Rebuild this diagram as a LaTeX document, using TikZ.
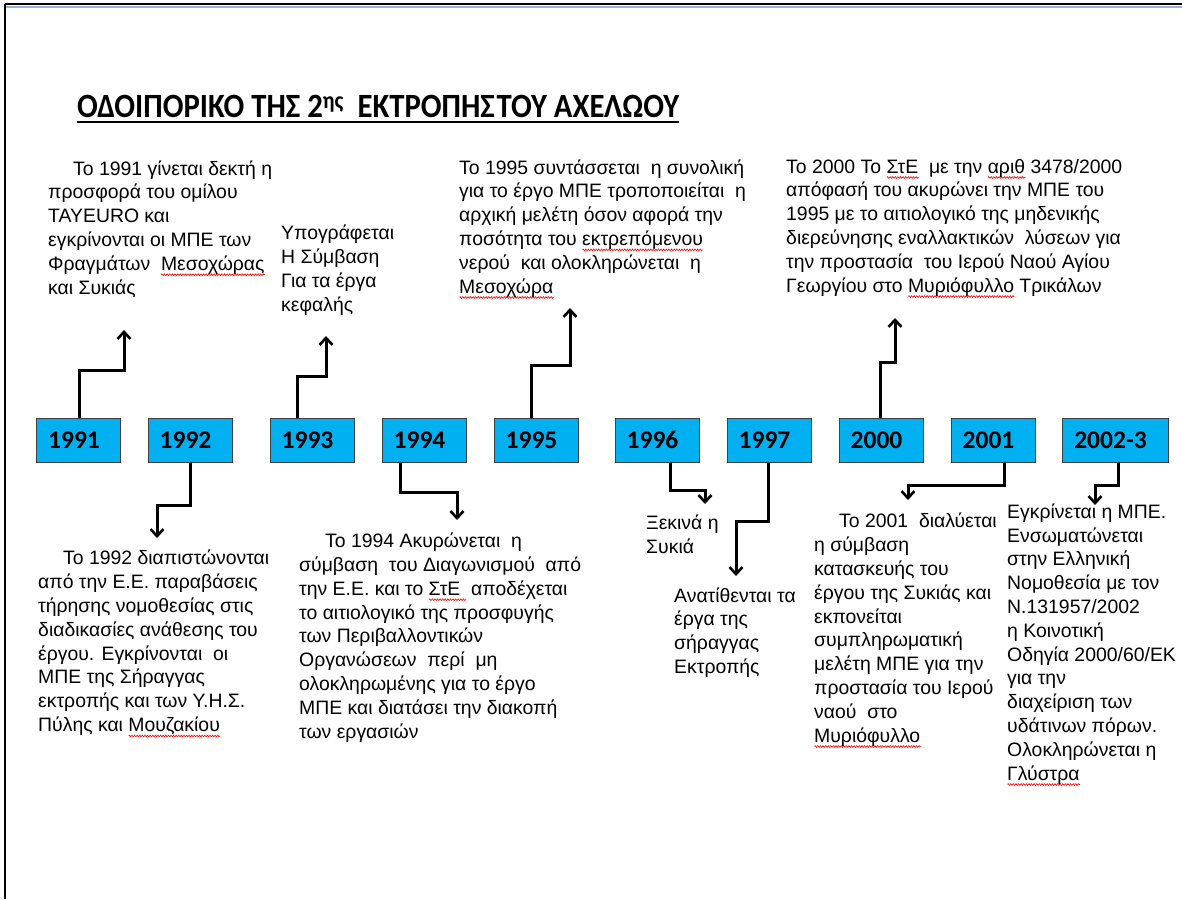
\documentclass[tikz,border=0pt]{standalone}
\usepackage{fontspec}
\setmainfont{Liberation Sans}
\newfontfamily\titlefont{Carlito}
\usepackage{graphicx}
\usetikzlibrary{arrows.meta,calc,decorations.pathmorphing}
\definecolor{boxcyan}{HTML}{00B0F0}
\definecolor{frameblue}{HTML}{9DB3CC}
\newsavebox\splbox
\newcommand\spl[1]{\sbox\splbox{#1}\leavevmode\rlap{\smash{\raisebox{-4.5pt}{\tikz[baseline=0pt]\draw[red, line width=0.6pt, decorate, decoration={zigzag, amplitude=0.9pt, segment length=2.6pt}] (0pt,0pt) -- (\wd\splbox,0pt);}}}\usebox\splbox}
\newcommand\yr[1]{#1\hspace*{9pt}}
\tikzset{
  yearbox/.style={draw=black!75, line width=0.8pt, fill=boxcyan, minimum width=84pt, minimum height=44pt, inner sep=0pt, text height=16pt, text depth=0pt, font=\titlefont\bfseries\fontsize{25.5}{25.5}\selectfont},
  conn/.style={line width=3pt, line join=miter, -{Straight Barb[length=7pt,width=13pt,line width=2.6pt]}},
  txt/.style={anchor=base west, align=left, inner sep=0pt, font=\fontsize{19.4}{23.8}\selectfont},
}
\begin{document}
\begin{tikzpicture}[x=1pt,y=-1pt]
\useasboundingbox (0,0) rectangle (1182,899);
% window frame
\draw[frameblue, line width=2pt] (6,7) -- (1182,7);
\draw[black, line width=2pt] (5,4.5) -- (1182,4.5);
\draw[black, line width=2pt] (5,4) -- (5,899);
% title
\node[anchor=base west, inner sep=0pt] (title) at (77,117.5) {\resizebox{602pt}{\height}{\titlefont\bfseries\fontsize{34}{34}\selectfont ΟΔΟΙΠΟΡΙΚΟ ΤΗΣ 2\textsuperscript{ης}\ \ ΕΚΤΡΟΠΗΣ\hspace{2pt}ΤΟΥ ΑΧΕΛΩΟΥ}};
\draw[line width=2.8pt] ($(title.base west)+(0,4.5)$) -- ($(title.base east)+(0,4.5)$);
% year boxes
\node[yearbox] (y91) at (78.5,440.5) {\yr{1991}};
\node[yearbox] (y92) at (190,440.5) {\yr{1992}};
\node[yearbox] (y93) at (312,440.5) {\yr{1993}};
\node[yearbox] (y94) at (424,440.5) {\yr{1994}};
\node[yearbox] (y95) at (536,440.5) {\yr{1995}};
\node[yearbox] (y96) at (657,440.5) {\yr{1996}};
\node[yearbox] (y97) at (769,440.5) {\yr{1997}};
\node[yearbox] (y00) at (881,440.5) {\yr{2000}};
\node[yearbox] (y01) at (993,440.5) {\yr{2001}};
\node[yearbox, minimum width=106pt] (y02) at (1115,440.5) {\yr{2002-3}};
% arrow ends
\coordinate (a91) at (124,330);
\coordinate (a93) at (326,336);
\coordinate (a95) at (570,308);
\coordinate (a00) at (895,318);
\coordinate (a92) at (157,538);
\coordinate (a94) at (457,520);
\coordinate (a96) at (705,504);
\coordinate (a97) at (736,576);
\coordinate (a01) at (908,500);
\coordinate (a02) at (1095,505);
% connectors up
\draw[conn] ($(y91.north)+(0.5,0)$) |- ($(a91)+(0,40)$) -- (a91);
\draw[conn] ($(y93.north)+(-15,0)$) |- ($(a93)+(0,40)$) -- (a93);
\draw[conn] ($(y95.north)+(-5,0)$) |- ($(a95)+(0,57)$) -- (a95);
\draw[conn] ($(y00.north)+(-1,0)$) |- ($(a00)+(0,44)$) -- (a00);
% connectors down
\draw[conn] ($(y92.south)+(0,0)$) |- ($(a92)+(0,-33)$) -- (a92);
\draw[conn] ($(y94.south)+(-24,0)$) |- ($(a94)+(0,-28)$) -- (a94);
\draw[conn] ($(y96.south)+(13,0)$) |- ($(a96)+(0,-14)$) -- (a96);
\draw[conn] ($(y97.south)+(-1,0)$) |- ($(a97)+(0,-55)$) -- (a97);
\draw[conn] ($(y01.south)+(11,0)$) |- ($(a01)+(0,-15)$) -- (a01);
\draw[conn] ($(y02.south)+(3,0)$) |- ($(a02)+(0,-20)$) -- (a02);
% texts above (anchor at baseline of the last line)
\node[txt] (t91) at (48,294) {\hspace*{25pt}Το 1991 γίνεται δεκτή η\\προσφορά του ομίλου\\TAYEURO και\\εγκρίνονται οι ΜΠΕ των\\Φραγμάτων\ \ \spl{Μεσοχώρας}\\και Συκιάς};
\node[txt] (t93) at (281,311) {Υπογράφεται\\Η Σύμβαση\\Για τα έργα\\κεφαλής};
\node[txt] (t95) at (459,293) {Το 1995 συντάσσεται\ \ η συνολική\\για το έργο ΜΠΕ τροποποιείται\ \ η\\αρχική\ μελέτη\ όσον\ αφορά\ την\\ποσότητα του \spl{εκτρεπόμενου}\\νερού\ \ και ολοκληρώνεται\ \ η\\\spl{Μεσοχώρα}};
\node[txt] (t00) at (786,292) {Το 2000 Το \spl{ΣτΕ}\ \ με την \spl{αριθ} 3478/2000\\απόφασή\ του ακυρώνει\ την ΜΠΕ του\\1995 με το αιτιολογικό της μηδενικής\\διερεύνησης εναλλακτικών\ \ λύσεων για\\την προστασία\ \ του Ιερού\ Ναού Αγίου\\Γεωργίου στο \spl{Μυριόφυλλο} Τρικάλων};
% texts below
\node[txt] (t92) at (38,731.5) {\hspace*{25pt}Το 1992 διαπιστώνονται\\από την Ε.Ε. παραβάσεις\\τήρησης νομοθεσίας στις\\διαδικασίες ανάθεσης του\\έργου. Εγκρίνονται\ \ οι\\ΜΠΕ της Σήραγγας\\εκτροπής και των Υ.Η.Σ.\\Πύλης και \spl{Μουζακίου}};
\node[txt] (t94) at (299,738) {\hspace*{26pt}Το 1994 Ακυρώνεται\ \ η\\σύμβαση\ \ του Διαγωνισμού\ \ από\\την Ε.Ε. και το \spl{ΣτΕ\ }\ αποδέχεται\\το αιτιολογικό της προσφυγής\\των Περιβαλλοντικών\\Οργανώσεων\ \ περί\ \ μη\\ολοκληρωμένης για το έργο\\ΜΠΕ και διατάσει την διακοπή\\των εργασιών};
\node[txt] (t96) at (646,553) {Ξεκινά η\\Συκιά};
\node[txt] (t97) at (674,673.5) {Ανατίθενται τα\\έργα της\\σήραγγας\\Εκτροπής};
\node[txt] (t01) at (814,742) {\hspace*{25pt}Το 2001\ \ διαλύεται\\η σύμβαση\\κατασκευής του\\έργου της Συκιάς και\\εκπονείται\\συμπληρωματική\\μελέτη ΜΠΕ για την\\προστασία του Ιερού\\ναού\ \ στο\\\spl{Μυριόφυλλο}};
\node[txt] (t02) at (1007,780) {Εγκρίνεται η ΜΠΕ.\\Ενσωματώνεται\\στην Ελληνική\\Νομοθεσία με τον\\Ν.131957/2002\\η Κοινοτική\\Οδηγία 2000/60/ΕΚ\\για την\\διαχείριση των\\υδάτινων πόρων.\\Ολοκληρώνεται η\\\spl{Γλύστρα}};
\end{tikzpicture}
\end{document}
